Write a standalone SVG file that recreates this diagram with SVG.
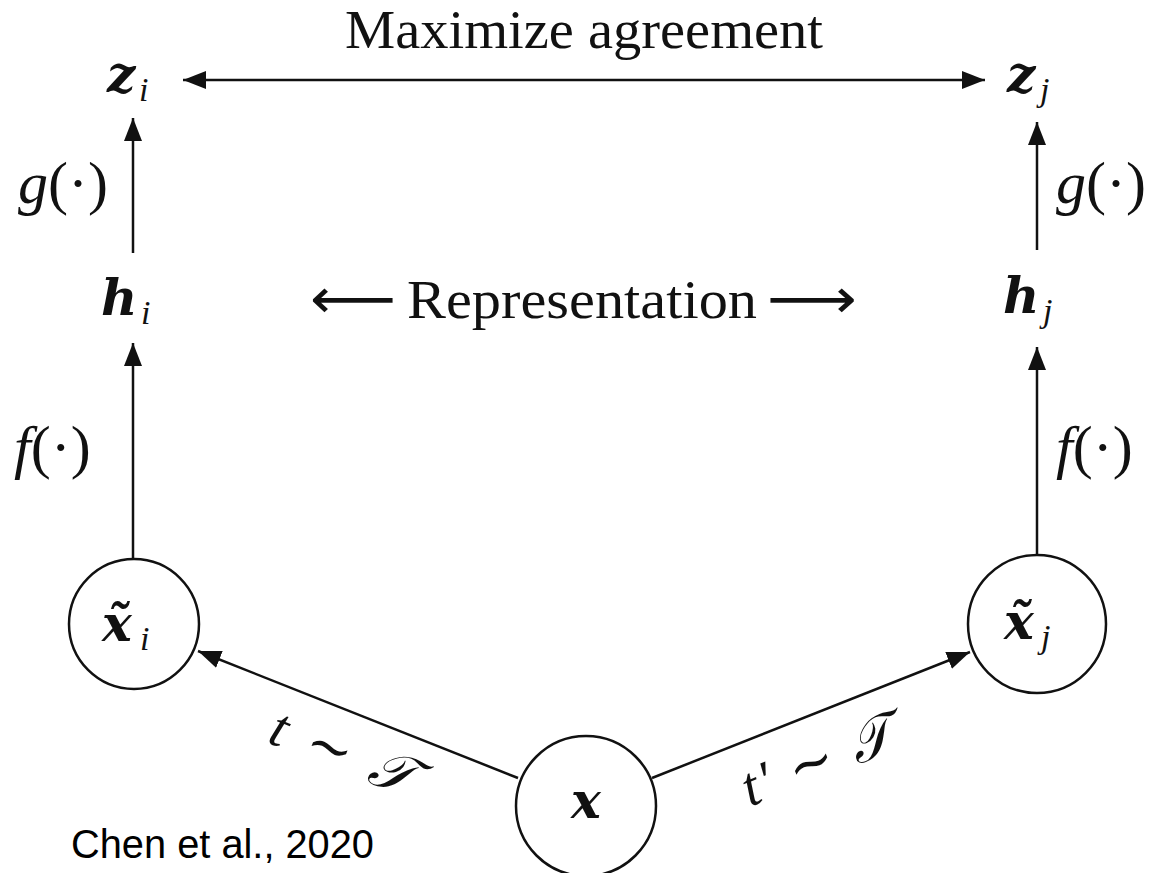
<svg xmlns="http://www.w3.org/2000/svg" width="1171" height="873" viewBox="0 0 1171 873">
  <style>
    .ln { stroke: #111; stroke-width: 2.5; fill: none; }
    .node { stroke: #111; stroke-width: 2.5; fill: #fff; }
    .title { font-family: "Liberation Serif", serif; font-size: 55px; fill: #111; }
    .m { font-family: "DejaVu Serif", serif; font-style: italic; font-weight: bold; font-size: 50px; fill: #111; }
    .s { font-family: "Liberation Serif", serif; font-style: italic; font-size: 34px; fill: #111; }
    .fn { font-family: "Liberation Serif", serif; font-size: 60px; fill: #111; }
    .it { font-style: italic; }
    .tl { font-family: "Liberation Serif", "DejaVu Serif", "DejaVu Sans", serif; font-style: italic; font-size: 56px; fill: #111; }
    .arr { font-family: "DejaVu Sans", sans-serif; font-size: 56px; fill: #111; }
    .cite { font-family: "Liberation Sans", Arial, sans-serif; font-size: 40px; fill: #000; }
  </style>
  <defs>
    <marker id="ah" markerUnits="userSpaceOnUse" markerWidth="23" markerHeight="18" refX="23" refY="9" orient="auto-start-reverse">
      <path d="M0,0 L23,9 L0,18 Z" fill="#111"/>
    </marker>
  </defs>
  <rect width="1171" height="873" fill="#fff"/>

  <g id="connectors">
    <line class="ln" x1="183" y1="80" x2="985" y2="80" marker-start="url(#ah)" marker-end="url(#ah)"/>
    <line class="ln" x1="133" y1="253" x2="133" y2="118" marker-end="url(#ah)"/>
    <line class="ln" x1="133" y1="559" x2="133" y2="343" marker-end="url(#ah)"/>
    <line class="ln" x1="1037" y1="250" x2="1037" y2="122" marker-end="url(#ah)"/>
    <line class="ln" x1="1037" y1="555" x2="1037" y2="347" marker-end="url(#ah)"/>
    <line class="ln" x1="518" y1="778" x2="198" y2="651" marker-end="url(#ah)"/>
    <line class="ln" x1="652" y1="778" x2="970" y2="652" marker-end="url(#ah)"/>
  </g>

  <g id="labels">
    <text class="title" x="584" y="48" text-anchor="middle" textLength="478" lengthAdjust="spacingAndGlyphs">Maximize agreement</text>
    <text class="fn" x="18" y="203"><tspan class="it">g</tspan>(·)</text>
    <text class="fn" x="1056" y="203"><tspan class="it">g</tspan>(·)</text>
    <text class="fn" x="14" y="467"><tspan class="it">f</tspan>(·)</text>
    <text class="fn" x="1056" y="467"><tspan class="it">f</tspan>(·)</text>
    <text class="arr" x="310" y="318" textLength="86" lengthAdjust="spacingAndGlyphs">⟵</text>
    <text class="title" x="407" y="318" textLength="350" lengthAdjust="spacingAndGlyphs">Representation</text>
    <text class="arr" x="767" y="318" textLength="90" lengthAdjust="spacingAndGlyphs">⟶</text>
    <text class="tl" x="266" y="742" transform="rotate(21.6 266 742)" textLength="150" lengthAdjust="spacing">t ∼ 𝒯</text>
    <text class="tl" x="750" y="807" transform="rotate(-21.6 750 807)" textLength="158" lengthAdjust="spacing">t′ ∼ 𝒯</text>
    <text class="cite" x="71" y="858" textLength="303" lengthAdjust="spacingAndGlyphs">Chen et al., 2020</text>
  </g>

  <g id="node-zi">
    <text class="m" x="107" y="92">z</text><text class="s" x="139" y="101">i</text>
  </g>
  <g id="node-zj">
    <text class="m" x="1007" y="92">z</text><text class="s" x="1040" y="101">j</text>
  </g>
  <g id="node-hi">
    <text class="m" x="101" y="315">h</text><text class="s" x="141" y="324">i</text>
  </g>
  <g id="node-hj">
    <text class="m" x="1003" y="313">h</text><text class="s" x="1043" y="322">j</text>
  </g>
  <g id="node-xi">
    <circle class="node" cx="134" cy="624" r="65"/>
    <text class="m" x="102" y="641">x̃</text>
    <text class="s" x="140" y="650">i</text>
  </g>
  <g id="node-xj">
    <circle class="node" cx="1037" cy="624" r="69"/>
    <text class="m" x="1004" y="639">x̃</text>
    <text class="s" x="1041" y="648">j</text>
  </g>
  <g id="node-x">
    <circle class="node" cx="586" cy="806" r="70"/>
    <text class="m" x="586" y="818" text-anchor="middle">x</text>
  </g>
</svg>
